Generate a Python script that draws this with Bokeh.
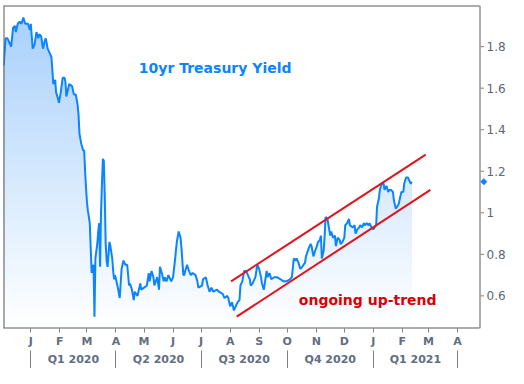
import numpy as np
import pandas as pd
from bokeh.plotting import figure
from bokeh.models import Range1d, FixedTicker, LinearAxis, Label, NumeralTickFormatter
from bokeh.embed import file_html
from bokeh.resources import INLINE

# ---------------- data ----------------
dates = [
    "2019-12-03", "2019-12-05", "2019-12-07", "2019-12-09", "2019-12-11", "2019-12-13", "2019-12-15", "2019-12-16",
    "2019-12-18", "2019-12-20", "2019-12-22", "2019-12-24", "2019-12-26", "2019-12-29", "2019-12-31", "2020-01-01",
    "2020-01-03", "2020-01-05", "2020-01-07", "2020-01-09", "2020-01-10", "2020-01-12", "2020-01-14", "2020-01-16",
    "2020-01-17", "2020-01-19", "2020-01-21", "2020-01-23", "2020-01-24", "2020-01-25", "2020-01-27", "2020-01-28",
    "2020-01-30", "2020-01-31", "2020-02-02", "2020-02-04", "2020-02-06", "2020-02-07", "2020-02-08", "2020-02-10",
    "2020-02-11", "2020-02-14", "2020-02-16", "2020-02-18", "2020-02-20", "2020-02-21", "2020-02-22", "2020-02-24",
    "2020-02-26", "2020-02-27", "2020-02-28", "2020-02-29", "2020-03-01", "2020-03-02", "2020-03-03", "2020-03-04",
    "2020-03-05", "2020-03-06", "2020-03-08", "2020-03-09", "2020-03-10", "2020-03-12", "2020-03-13", "2020-03-14",
    "2020-03-15", "2020-03-16", "2020-03-17", "2020-03-18", "2020-03-19", "2020-03-20", "2020-03-21", "2020-03-22",
    "2020-03-23", "2020-03-25", "2020-03-26", "2020-03-28", "2020-03-29", "2020-03-30", "2020-03-31", "2020-04-03",
    "2020-04-05", "2020-04-06", "2020-04-07", "2020-04-09", "2020-04-11", "2020-04-13", "2020-04-15", "2020-04-16",
    "2020-04-18", "2020-04-20", "2020-04-21", "2020-04-24", "2020-04-26", "2020-04-27", "2020-04-28", "2020-05-01",
    "2020-05-04", "2020-05-06", "2020-05-07", "2020-05-09", "2020-05-11", "2020-05-12", "2020-05-15", "2020-05-17",
    "2020-05-18", "2020-05-20", "2020-05-22", "2020-05-23", "2020-05-25", "2020-05-27", "2020-05-28", "2020-05-30",
    "2020-06-01", "2020-06-03", "2020-06-05", "2020-06-07", "2020-06-09", "2020-06-10", "2020-06-12", "2020-06-13",
    "2020-06-14", "2020-06-16", "2020-06-18", "2020-06-20", "2020-06-22", "2020-06-25", "2020-06-27", "2020-06-28",
    "2020-07-02", "2020-07-03", "2020-07-06", "2020-07-08", "2020-07-10", "2020-07-12", "2020-07-14", "2020-07-18",
    "2020-07-20", "2020-07-24", "2020-07-26", "2020-07-29", "2020-07-30", "2020-08-01", "2020-08-03", "2020-08-05",
    "2020-08-07", "2020-08-09", "2020-08-11", "2020-08-12", "2020-08-14", "2020-08-16", "2020-08-18", "2020-08-20",
    "2020-08-22", "2020-08-23", "2020-08-25", "2020-08-28", "2020-08-30", "2020-09-01", "2020-09-03", "2020-09-04",
    "2020-09-06", "2020-09-09", "2020-09-10", "2020-09-12", "2020-09-14", "2020-09-17", "2020-09-20", "2020-09-24",
    "2020-09-27", "2020-09-30", "2020-10-04", "2020-10-06", "2020-10-08", "2020-10-10", "2020-10-11", "2020-10-13",
    "2020-10-15", "2020-10-17", "2020-10-20", "2020-10-21", "2020-10-24", "2020-10-26", "2020-10-27", "2020-10-29",
    "2020-10-31", "2020-11-01", "2020-11-03", "2020-11-05", "2020-11-06", "2020-11-07", "2020-11-09", "2020-11-10",
    "2020-11-11", "2020-11-13", "2020-11-16", "2020-11-17", "2020-11-19", "2020-11-21", "2020-11-22", "2020-11-24",
    "2020-11-26", "2020-11-27", "2020-11-29", "2020-12-01", "2020-12-02", "2020-12-04", "2020-12-06", "2020-12-07",
    "2020-12-10", "2020-12-12", "2020-12-13", "2020-12-15", "2020-12-17", "2020-12-18", "2020-12-20", "2020-12-22",
    "2020-12-23", "2020-12-25", "2020-12-27", "2020-12-28", "2020-12-30", "2021-01-01", "2021-01-04", "2021-01-05",
    "2021-01-07", "2021-01-08", "2021-01-10", "2021-01-12", "2021-01-13", "2021-01-15", "2021-01-17", "2021-01-18",
    "2021-01-20", "2021-01-22", "2021-01-23", "2021-01-25", "2021-01-28", "2021-01-29", "2021-01-31", "2021-02-02",
    "2021-02-03", "2021-02-05", "2021-02-07", "2021-02-08", "2021-02-10", "2021-02-11",
]
yields = [
    1.71, 1.84, 1.84, 1.82, 1.80, 1.89, 1.90, 1.87,
    1.91, 1.92, 1.91, 1.94, 1.91, 1.91, 1.88, 1.91,
    1.79, 1.81, 1.87, 1.84, 1.86, 1.85, 1.79, 1.83,
    1.84, 1.79, 1.77, 1.75, 1.69, 1.62, 1.64, 1.58,
    1.55, 1.53, 1.58, 1.65, 1.65, 1.63, 1.56, 1.60,
    1.62, 1.61, 1.57, 1.57, 1.52, 1.47, 1.38, 1.33,
    1.30, 1.30, 1.20, 1.12, 1.05, 1.01, 0.98, 0.95,
    0.83, 0.71, 0.75, 0.50, 0.78, 0.85, 0.91, 0.95,
    0.74, 1.00, 1.14, 1.26, 1.25, 1.08, 0.85, 0.77,
    0.74, 0.86, 0.84, 0.78, 0.72, 0.68, 0.70, 0.64,
    0.59, 0.66, 0.73, 0.77, 0.75, 0.75, 0.65, 0.66,
    0.63, 0.58, 0.62, 0.60, 0.64, 0.66, 0.63, 0.64,
    0.65, 0.71, 0.67, 0.72, 0.69, 0.65, 0.69, 0.63,
    0.74, 0.71, 0.67, 0.69, 0.67, 0.70, 0.69, 0.67,
    0.69, 0.77, 0.86, 0.91, 0.88, 0.83, 0.70, 0.70,
    0.72, 0.75, 0.72, 0.70, 0.71, 0.70, 0.67, 0.64,
    0.65, 0.68, 0.69, 0.65, 0.62, 0.64, 0.62, 0.63,
    0.62, 0.61, 0.59, 0.60, 0.59, 0.55, 0.57, 0.53,
    0.55, 0.57, 0.58, 0.65, 0.67, 0.72, 0.72, 0.70,
    0.68, 0.65, 0.66, 0.69, 0.75, 0.73, 0.69, 0.66,
    0.63, 0.72, 0.69, 0.71, 0.68, 0.69, 0.69, 0.68,
    0.67, 0.67, 0.68, 0.69, 0.78, 0.77, 0.78, 0.76,
    0.73, 0.74, 0.76, 0.79, 0.83, 0.85, 0.84, 0.79,
    0.82, 0.83, 0.86, 0.87, 0.89, 0.78, 0.82, 0.89,
    0.98, 0.97, 0.89, 0.91, 0.88, 0.89, 0.84, 0.88,
    0.87, 0.85, 0.86, 0.88, 0.94, 0.95, 0.97, 0.94,
    0.93, 0.94, 0.90, 0.92, 0.93, 0.94, 0.93, 0.95,
    0.94, 0.95, 0.94, 0.95, 0.93, 0.92, 0.94, 1.03,
    1.07, 1.11, 1.14, 1.14, 1.11, 1.13, 1.10, 1.11,
    1.11, 1.10, 1.06, 1.02, 1.04, 1.06, 1.10, 1.10,
    1.14, 1.17, 1.17, 1.16, 1.14, 1.15,
]

trend_upper_dates = ["2020-08-02", "2021-02-26"]
trend_upper_vals = [0.67, 1.28]
trend_lower_dates = ["2020-08-08", "2021-03-03"]
trend_lower_vals = [0.50, 1.11]

month_starts = ["2020-01-01", "2020-02-01", "2020-03-01", "2020-04-01", "2020-05-01", "2020-06-01",
                "2020-07-01", "2020-08-01", "2020-09-01", "2020-10-01", "2020-11-01", "2020-12-01",
                "2021-01-01", "2021-02-01", "2021-03-01", "2021-04-01"]
month_labels = ["J", "F", "M", "A", "M", "J", "J", "A", "S", "O", "N", "D", "J", "F", "M", "A"]
quarter_bounds = ["2020-01-01", "2020-04-01", "2020-07-01", "2020-10-01", "2021-01-01", "2021-04-01"]
quarter_labels = ["Q1 2020", "Q2 2020", "Q3 2020", "Q4 2020", "Q1 2021"]
y_ticks = [0.6, 0.8, 1.0, 1.2, 1.4, 1.6, 1.8]

title_text = "10yr Treasury Yield"
note_text = "ongoing up-trend"


def ms(s):
    return float(pd.Timestamp(s).value // 10**6)


# ---------------- layout ----------------
WIDTH, HEIGHT = 508, 368
BORDER_L, BORDER_R, BORDER_T = 3, 20, 5
FRAME_W = WIDTH - BORDER_L - BORDER_R      # plotting frame incl. a strip right of the box
STRIP = 8                                  # px right of the chart box (marker / ticks live here)

x_start, x_end = ms("2019-12-02 19:00"), ms("2021-04-24 12:00")   # chart box edges
px = (x_end - x_start) / (FRAME_W - STRIP)                          # data units per pixel
x_true_end = x_end + STRIP * px
y_start, y_end = 0.443, 1.998

LINE_BLUE = "#0a84ff"
RED = "#e3121b"
AXIS_TXT = "#5f6e82"
GRAY = "#7f7f7f"
BOX = "#5a5a5a"
FONT = "DejaVu Sans"

p = figure(width=WIDTH, height=HEIGHT, x_axis_type="datetime", y_axis_location="right",
           x_range=Range1d(x_start, x_true_end), y_range=Range1d(y_start, y_end),
           output_backend="svg", toolbar_location=None,
           min_border_left=BORDER_L, min_border_right=BORDER_R, min_border_top=BORDER_T,
           min_border_bottom=0)
p.xgrid.visible = False
p.ygrid.visible = False
p.background_fill_color = "white"
p.border_fill_color = "white"
p.outline_line_color = None

x = np.array([ms(d) for d in dates])
v = np.array(yields)

# gradient area fill (stacked bands, drawn from top colour downward)
top_rgb = np.array([166, 207, 251])
bot_rgb = np.array([255, 255, 255])
N = 80
edges = np.linspace(y_start, y_end, N + 1)
for i in range(N, 0, -1):
    t = ((edges[i - 1] + edges[i]) / 2 - y_start) / (y_end - y_start)
    c = np.round(bot_rgb + (top_rgb - bot_rgb) * t).astype(int)
    col = "#%02x%02x%02x" % tuple(c)
    p.varea(x=x, y1=np.full(len(x), 0.0), y2=np.minimum(v, edges[i]),
            fill_color=col, fill_alpha=1.0)

p.line(x, v, line_color=LINE_BLUE, line_width=2)

p.line([ms(d) for d in trend_upper_dates], trend_upper_vals, line_color=RED, line_width=2)
p.line([ms(d) for d in trend_lower_dates], trend_lower_vals, line_color=RED, line_width=2)

# chart box (left/top/bottom lie on the frame edge; half of a 2px line is visible)
p.line([x_start, x_start], [y_start, y_end], line_color=BOX, line_width=2)
p.line([x_start, x_end], [y_end, y_end], line_color=BOX, line_width=2)
p.line([x_start, x_end], [y_start, y_start], line_color=BOX, line_width=2)
p.line([x_end + 0.5 * px, x_end + 0.5 * px], [y_start, y_end], line_color=BOX, line_width=1)

# value-axis tick marks just outside the box
p.segment(x0=[x_end + px] * len(y_ticks), x1=[x_end + 4.5 * px] * len(y_ticks),
          y0=y_ticks, y1=y_ticks, line_color=GRAY, line_width=1)

# last-value marker next to the axis
p.scatter(x=[x_end + 4.3 * px], y=[yields[-1]], marker="square", angle=np.pi / 4,
          size=4.6, fill_color=LINE_BLUE, line_color=LINE_BLUE, line_width=0.5)

# month axis
month_ms = [ms(d) for d in month_starts]
xa = p.xaxis[0]
xa.ticker = FixedTicker(ticks=month_ms)
xa.major_label_overrides = dict(zip(month_ms, month_labels))
xa.axis_line_color = None
xa.major_tick_in = 0
xa.major_tick_out = 4
xa.major_tick_line_color = GRAY
xa.minor_tick_out = 0
xa.minor_tick_in = 0
xa.minor_tick_line_color = None
xa.major_label_standoff = 2
xa.major_label_text_font = FONT
xa.major_label_text_font_style = "bold"
xa.major_label_text_font_size = "11px"
xa.major_label_text_color = AXIS_TXT

# quarter axis: separators are minor ticks, labels at quarter midpoints
qb_ms = [ms(d) for d in quarter_bounds]
q_mid = [(a + b) / 2 for a, b in zip(qb_ms[:-1], qb_ms[1:])]
qa = LinearAxis(ticker=FixedTicker(ticks=q_mid, minor_ticks=qb_ms))
qa.major_label_overrides = dict(zip(q_mid, quarter_labels))
qa.axis_line_color = None
qa.major_tick_in = 0
qa.major_tick_out = 0
qa.major_tick_line_color = None
qa.minor_tick_in = 0
qa.minor_tick_out = 20
qa.minor_tick_line_color = GRAY
qa.major_label_standoff = -18
qa.major_label_text_font = FONT
qa.major_label_text_font_style = "bold"
qa.major_label_text_font_size = "11px"
qa.major_label_text_color = AXIS_TXT
p.add_layout(qa, "below")

# right value axis (labels only; tick marks drawn above)
ya = p.yaxis[0]
ya.ticker = FixedTicker(ticks=y_ticks)
ya.formatter = NumeralTickFormatter(format="0.[0]")
ya.axis_line_color = None
ya.major_tick_in = 0
ya.major_tick_out = 0
ya.major_tick_line_color = None
ya.minor_tick_line_color = None
ya.major_label_standoff = -1
ya.major_label_text_font = FONT
ya.major_label_text_font_size = "12px"
ya.major_label_text_color = "#5d6673"

# texts
p.add_layout(Label(x=ms("2020-07-16"), y=1.697, text=title_text, text_align="center",
                   text_baseline="alphabetic", text_font=FONT, text_font_style="bold",
                   text_font_size="14px", text_color=LINE_BLUE))
p.add_layout(Label(x=ms("2020-12-26"), y=0.582, text=note_text, text_align="center",
                   text_baseline="alphabetic", text_font=FONT, text_font_style="bold",
                   text_font_size="14px", text_color="#dd0000"))

open("out.html", "w").write(file_html(p, INLINE))
